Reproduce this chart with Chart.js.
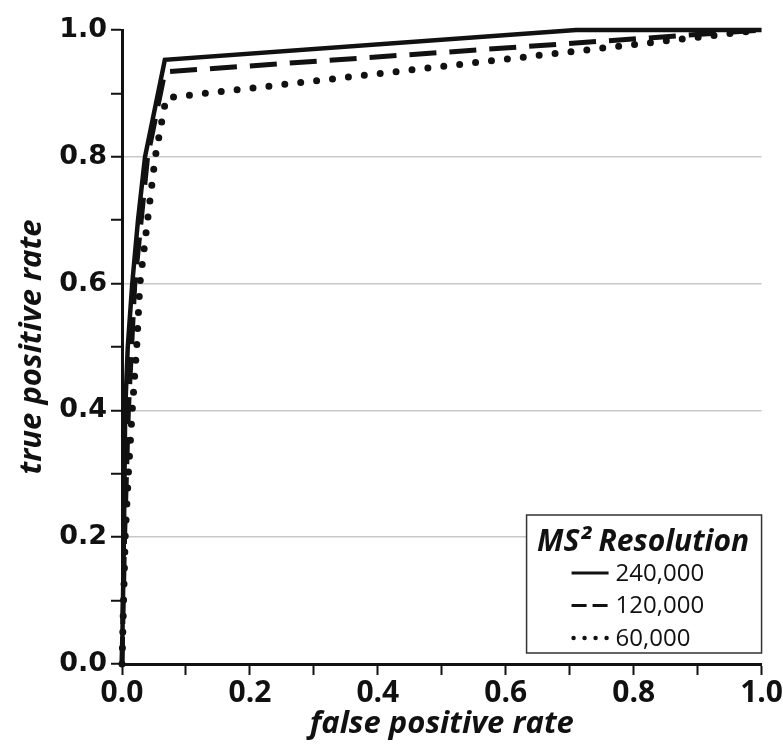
<!DOCTYPE html>
<html>
<head>
<meta charset="utf-8">
<script src="https://cdn.jsdelivr.net/npm/chart.js@4"></script>
<style>
  body { margin: 0; background: #fff; }
</style>
</head>
<body>
<canvas id="rocChart" width="783" height="745"></canvas>
<script>
// ROC curves
const seriesLabels = ['240,000', '120,000', '60,000'];
const legendTitle = 'MS\u00B2 Resolution';

const fpr240 = [0, 0.003, 0.005, 0.009, 0.016, 0.025, 0.036, 0.067, 0.71, 1.0];
const tpr240 = [0, 0.2, 0.4, 0.5, 0.6, 0.7, 0.8, 0.953, 1.0, 1.0];

const fpr120 = [0, 0.004, 0.01, 0.02, 0.04, 0.067, 1.0];
const tpr120 = [0, 0.2, 0.4, 0.6, 0.8, 0.934, 1.0];

const fpr60 = [0, 0.005, 0.01, 0.016, 0.023, 0.028, 0.052, 0.069, 1.0];
const tpr60 = [0, 0.2, 0.3, 0.4, 0.5, 0.6, 0.8, 0.893, 1.0];

const xTitle = 'false positive rate';
const yTitle = 'true positive rate';

function toPoints(xs, ys) {
    return xs.map((x, i) => ({ x: x, y: ys[i] }));
}

const ink = '#111';
const legendDash = [[], [15, 6], [0, 11]];

// legend box sits in the lower right corner of the plot
const boxLegend = {
    id: 'boxLegend',
    afterDraw(chart) {
        const ctx = chart.ctx;
        const area = chart.chartArea;
        const right = area.right;
        const bottom = area.bottom - 11;
        const w = 235, h = 138;
        const left = right - w, top = bottom - h;

        ctx.save();
        ctx.fillStyle = '#fff';
        ctx.fillRect(left, top, w, h);
        ctx.strokeStyle = '#333';
        ctx.lineWidth = 1.5;
        ctx.strokeRect(left, top, w, h);

        ctx.fillStyle = ink;
        ctx.textBaseline = 'middle';
        ctx.textAlign = 'center';
        ctx.font = 'italic 700 30px "Open Sans"';
        ctx.fillText(legendTitle, left + w / 2 - 1, top + 27);

        ctx.textAlign = 'left';
        ctx.font = '24px "Open Sans"';
        chart.data.datasets.forEach((ds, i) => {
            const y = top + 58 + i * 32.5;
            ctx.strokeStyle = ds.borderColor;
            ctx.setLineDash(legendDash[i]);
            ctx.lineCap = i === 2 ? 'round' : 'butt';
            ctx.lineWidth = i === 2 ? 4.5 : 3;
            ctx.beginPath();
            ctx.moveTo(left + (i === 2 ? 47 : 45), y);
            ctx.lineTo(left + 82, y);
            ctx.stroke();
            ctx.fillText(ds.label, left + 89, y + 1);
        });
        ctx.restore();
    }
};

const isEven = v => Math.round(v * 10) % 2 === 0;
const tickFontY = { family: 'DejaVu Sans', weight: 'bold', size: 27 };
const tickFontX = { family: 'Open Sans', weight: '700', size: 30 };
const titleFont = { family: 'Open Sans', weight: '700', style: 'italic', size: 31 };

new Chart(document.getElementById('rocChart'), {
    type: 'scatter',
    data: {
        datasets: [
            {
                label: seriesLabels[0],
                data: toPoints(fpr240, tpr240),
                showLine: true,
                clip: 6,
                borderColor: ink,
                borderWidth: 4.5,
                pointRadius: 0,
                tension: 0
            },
            {
                label: seriesLabels[1],
                data: toPoints(fpr120, tpr120),
                showLine: true,
                clip: 6,
                borderColor: ink,
                borderWidth: 5,
                borderDash: [27, 13],
                pointRadius: 0,
                tension: 0
            },
            {
                label: seriesLabels[2],
                data: toPoints(fpr60, tpr60),
                showLine: true,
                clip: 6,
                borderColor: ink,
                borderWidth: 7,
                borderDash: [0, 16],
                borderCapStyle: 'round',
                pointRadius: 0,
                tension: 0
            }
        ]
    },
    options: {
        responsive: false,
        animation: false,
        layout: { padding: { top: 30, right: 2, left: 0, bottom: 0 } },
        plugins: {
            legend: { display: false },
            tooltip: { enabled: false }
        },
        scales: {
            x: {
                type: 'linear',
                min: 0,
                max: 1,
                afterFit: s => { s.height = 81; },
                ticks: {
                    stepSize: 0.1,
                    autoSkip: false,
                    maxRotation: 0,
                    padding: 0,
                    color: ink,
                    font: tickFontX,
                    callback: v => isEven(v) ? v.toFixed(1) : ''
                },
                grid: { drawOnChartArea: false, tickLength: 11, tickColor: ink, tickWidth: 2 },
                border: { color: ink, width: 3 },
                title: { display: true, text: xTitle, color: ink, font: titleFont, padding: { top: 0, bottom: 2 } }
            },
            y: {
                type: 'linear',
                min: 0,
                max: 1,
                afterFit: s => { s.width = 122; },
                ticks: {
                    stepSize: 0.1,
                    autoSkip: false,
                    padding: 4,
                    color: ink,
                    font: tickFontY,
                    callback: v => isEven(v) ? v.toFixed(1) : ''
                },
                grid: {
                    color: c => {
                        const k = Math.round(c.tick.value * 10);
                        return (k % 2 === 0 && k > 0 && k < 10) ? '#c8c8c8' : 'rgba(0,0,0,0)';
                    },
                    lineWidth: 1.5,
                    tickLength: 11,
                    tickColor: ink,
                    tickWidth: 2
                },
                border: { color: ink, width: 3 },
                title: { display: true, text: yTitle, color: ink, font: titleFont, padding: { top: 14, bottom: 0 } }
            }
        }
    },
    plugins: [boxLegend]
});
</script>
</body>
</html>
